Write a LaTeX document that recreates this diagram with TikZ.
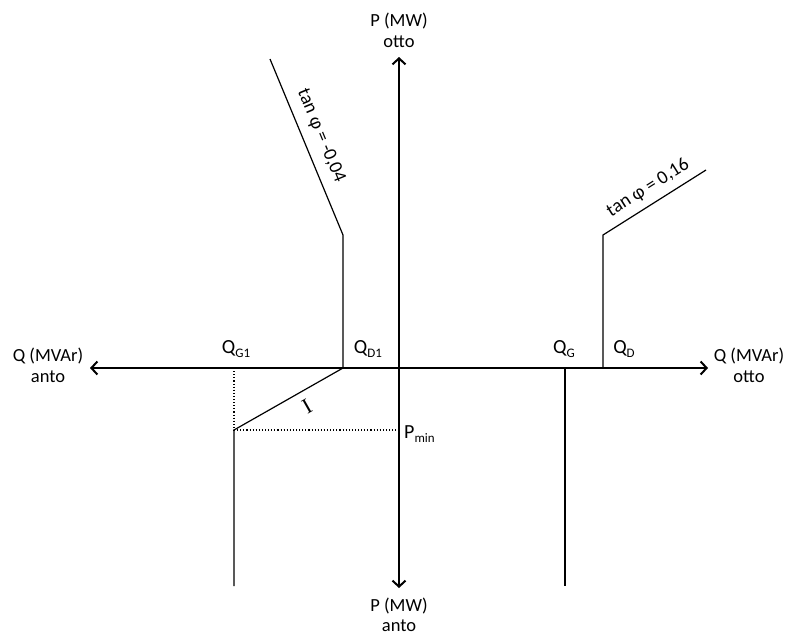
\documentclass[tikz,border=0pt]{standalone}
\usepackage{fontspec}
\setmainfont{Carlito}
\newfontfamily\seriffont{Liberation Serif}
\usetikzlibrary{arrows.meta}
\tikzset{
  axis/.style={line width=2.4pt,-{Straight Barb[length=6pt,width=13pt,line width=2pt]}},
  curve/.style={line width=1.2pt},
  guide/.style={line width=1.1pt,dotted},
  lbl/.style={inner sep=0pt,font=\fontsize{18.5}{18.5}\selectfont},
  tlbl/.style={inner sep=0pt,font=\fontsize{19}{19}\selectfont},
  qlbl/.style={inner sep=0pt,font=\fontsize{20}{20}\selectfont},
}
\newcommand{\subtxt}[1]{\raisebox{-0.4ex}{\fontsize{13}{13}\selectfont #1}}
\begin{document}
\begin{tikzpicture}[x=1pt,y=-1pt]
\useasboundingbox (0,0) rectangle (787,635);
% axes
\coordinate (O) at (399,368);
\coordinate (ptop) at (399,57);
\coordinate (pbot) at (399,588);
\coordinate (qleft) at (90,368);
\coordinate (qright) at (708,368);
\draw[axis] (O) -- (ptop);
\draw[axis] (O) -- (pbot);
\draw[axis] (O) -- (qleft);
\draw[axis] (O) -- (qright);
% left characteristic
\coordinate (l1) at (270,59);
\coordinate (l2) at (343,235);
\coordinate (l3) at (343,368);
\coordinate (l4) at (234,430);
\coordinate (l5) at (234,586);
\coordinate (lq) at (234,368);
\coordinate (lp) at (399,430);
\draw[curve] (l1) -- (l2) -- (l3) -- (l4) -- (l5);
\draw[guide] (lq) -- (l4) -- (lp);
% right characteristic
\coordinate (r1) at (706,170);
\coordinate (r2) at (603,235);
\coordinate (r3) at (603,368);
\coordinate (g1) at (565,368);
\coordinate (g2) at (565,586);
\draw[curve] (r1) -- (r2) -- (r3);
\draw[curve] (g1) -- (g2);
% labels
\node[lbl] (ptl) at (399,21) {P (MW)};
\node[lbl] (pto) at (399,42) {otto};
\node[lbl] (pbl) at (399,606) {P (MW)};
\node[lbl] (pba) at (399,626) {anto};
\node[lbl] (qll) at (48,356) {Q (MVAr)};
\node[lbl] (qla) at (48,377) {anto};
\node[lbl] (qrl) at (749,356) {Q (MVAr)};
\node[lbl] (qro) at (749,377) {otto};
\node[qlbl] (qg1) at (236,349) {Q\subtxt{G1}};
\node[qlbl] (qd1) at (368,349) {Q\subtxt{D1}};
\node[qlbl] (qg) at (564,349) {Q\subtxt{G}};
\node[qlbl] (qd) at (624,349) {Q\subtxt{D}};
\node[qlbl,anchor=west] (pmin) at (404,434) {P\subtxt{min}};
\node[inner sep=0pt,rotate=29.6,font=\seriffont\fontsize{22}{22}\selectfont] (one) at (307,406) {I};
\node[tlbl,rotate=-67.5] (tan1) at (321,136) {tan φ = -0,04};
\node[tlbl,rotate=32.3] (tan2) at (648,188) {tan φ = 0,16};
\end{tikzpicture}
\end{document}
